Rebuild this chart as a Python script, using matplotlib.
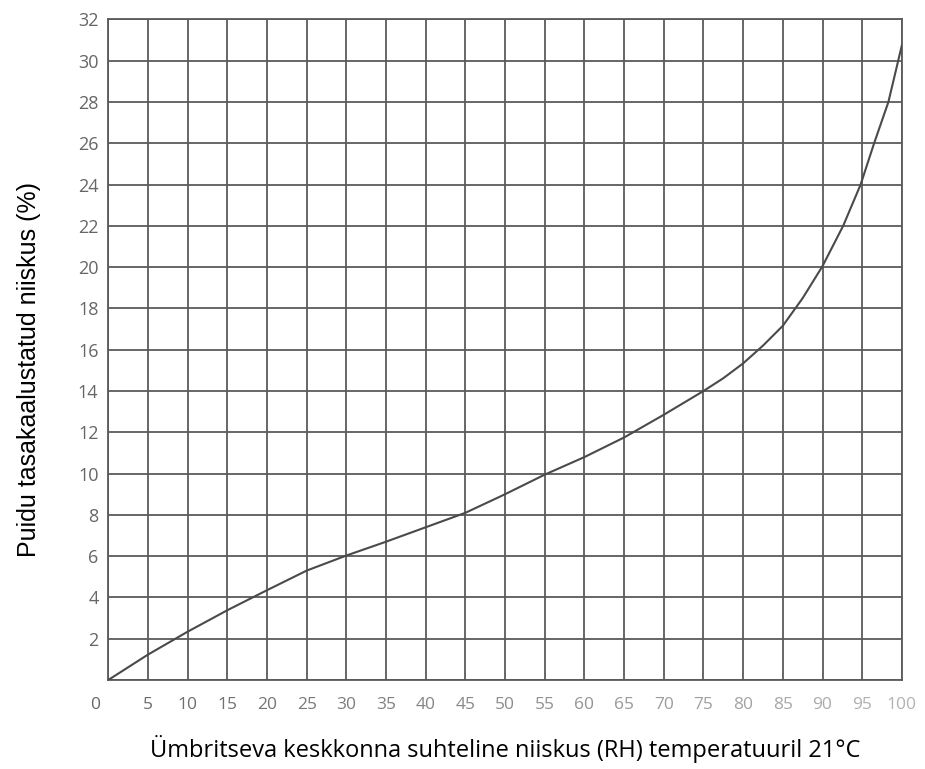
import matplotlib
matplotlib.use("Agg")
import matplotlib.pyplot as plt
import matplotlib.transforms as mtransforms
import numpy as np

# relative humidity (%) and equilibrium moisture content of wood (%)
rh = [0, 5, 10, 15, 20, 25, 30, 35, 40, 45, 50, 55, 60, 65, 70, 75,
      77.5, 80, 82.5, 85, 87.5, 90, 92.6, 94.8, 96.5, 98.3, 100]
emc = [0, 1.23, 2.34, 3.38, 4.35, 5.3, 6.03, 6.7, 7.4, 8.1, 9.0, 9.95,
       10.8, 11.75, 12.85, 14.0, 14.62, 15.34, 16.2, 17.16, 18.5, 20.05,
       22.0, 24.0, 26.0, 28.0, 30.75]

x_ticks = list(range(0, 101, 5))
y_ticks = list(range(2, 33, 2))

grid_col = "#5a5a5a"

fig = plt.figure(figsize=(9.25, 7.69), dpi=100)
ax = fig.add_axes([0.117, 0.1157, 0.858, 0.859])

ax.set_xlim(0, 100)
ax.set_ylim(0, 32)

for x in x_ticks:
    ax.axvline(x, color=grid_col, lw=1.3, zorder=1)
for y in [0] + y_ticks:
    ax.axhline(y, color=grid_col, lw=1.3, zorder=1)

ax.plot(rh, emc, color="#4a4a4a", lw=1.5, zorder=3)

for s in ax.spines.values():
    s.set_color(grid_col)
    s.set_linewidth(1.3)

ax.tick_params(length=0)
ax.set_yticks(y_ticks)
ax.set_yticklabels([str(v) for v in y_ticks], fontsize=13, color="#666666",
                   family="Open Sans")
ax.tick_params(axis="y", pad=7)

ax.set_xticks(x_ticks)
ax.set_xticklabels([str(v) for v in x_ticks], fontsize=12.5, family="Open Sans")
ax.tick_params(axis="x", pad=12)
fade = np.linspace(0.40, 0.70, len(x_ticks))
for lab, g in zip(ax.get_xticklabels(), fade):
    lab.set_color((g, g, g))
# the lone "0" sits left of the corner
zero = ax.get_xticklabels()[0]
zero.set_horizontalalignment("right")
zero.set_transform(zero.get_transform() +
                   mtransforms.ScaledTranslation(-6 / 72, 0, fig.dpi_scale_trans))

ax.set_ylabel("Puidu tasakaalustatud niiskus (%)", fontsize=18,
              family="Liberation Sans")
ax.yaxis.set_label_coords(-0.085, 0.47)
ax.set_xlabel("Ümbritseva keskkonna suhteline niiskus (RH) temperatuuril 21°C",
              fontsize=17, family="Open Sans", labelpad=16)

fig.savefig("out.png", dpi=100)
